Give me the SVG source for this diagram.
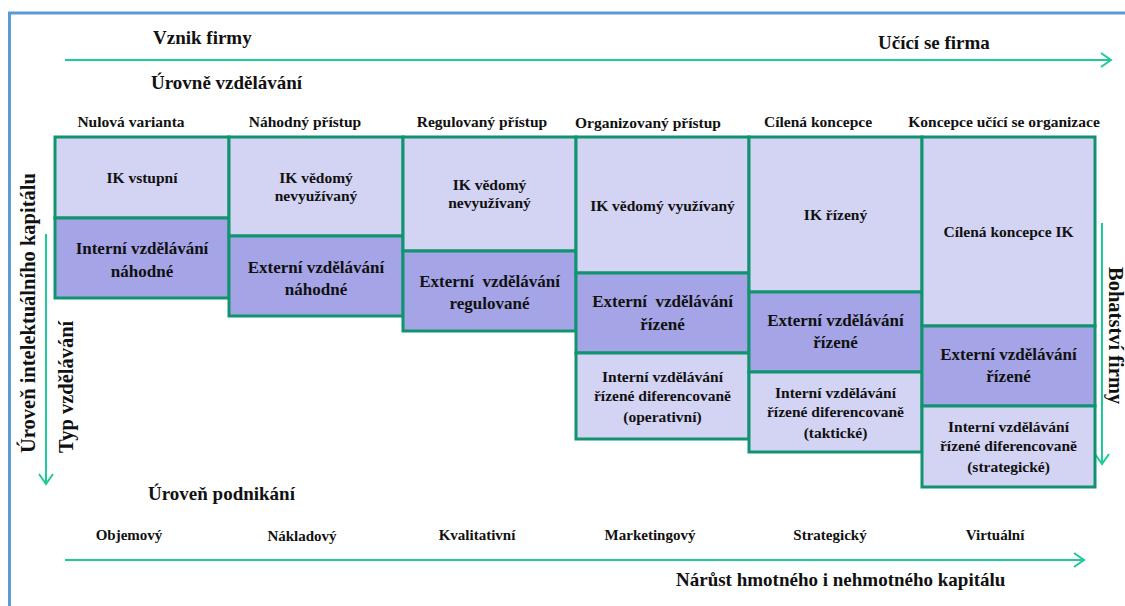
<svg xmlns="http://www.w3.org/2000/svg" width="1125" height="606" viewBox="0 0 1125 606" font-family="'Liberation Serif', 'DejaVu Serif', 'Times New Roman', serif" font-weight="bold">
<defs>
<marker id="chev" markerUnits="userSpaceOnUse" markerWidth="14" markerHeight="16" refX="11" refY="8" orient="auto">
<path d="M1,1 L11,8 L1,15" fill="none" stroke="#1ec99a" stroke-width="2"/>
</marker>
<style>
text{font-family:'Liberation Serif','DejaVu Serif','Times New Roman',serif;font-weight:bold;fill:#111;}
.t19{font-size:19px;}
.t20{font-size:20.5px;}
.hd{font-size:15.5px;text-anchor:middle;}
.bt{font-size:15px;text-anchor:middle;}
.lt{font-size:15.5px;text-anchor:middle;}
.md{font-size:17px;text-anchor:middle;}
.light{fill:#d3d3f3;stroke:#10946f;stroke-width:3;}
.med{fill:#a4a4e6;stroke:#10946f;stroke-width:3;}
.arr{stroke:#1ec99a;stroke-width:2;fill:none;}
.frame{stroke:#5b9bd5;stroke-width:3;fill:none;}
</style>
</defs>
<rect width="1125" height="606" fill="#ffffff"/>
<g id="frame">
<path class="frame" d="M9.5,606 L9.5,13 L1125,13"/>
</g>
<g id="connectors">
<line class="arr" x1="65" y1="60" x2="1111" y2="60" marker-end="url(#chev)"/>
<line class="arr" x1="65" y1="560" x2="1084" y2="560" marker-end="url(#chev)"/>
<line class="arr" x1="46" y1="234" x2="46" y2="484" marker-end="url(#chev)"/>
<line class="arr" x1="1102" y1="223" x2="1102" y2="464" marker-end="url(#chev)"/>
</g>
<g id="labels">
<text class="t19" x="153" y="44">Vznik firmy</text>
<text class="t19" x="878" y="49">Učící se firma</text>
<text class="t19" x="151" y="89">Úrovně vzdělávání</text>
<text class="t19" x="148" y="500">Úroveň podnikání</text>
<text class="t19" x="676" y="586">Nárůst hmotného i nehmotného kapitálu</text>
<text class="t20" transform="translate(35,453) rotate(-90)">Úroveň intelektuálního kapitálu</text>
<text class="t20" transform="translate(73,453) rotate(-90)">Typ vzdělávání</text>
<text class="t20" transform="translate(1109,267) rotate(90)">Bohatství firmy</text>
</g>
<g id="headers">
<text class="hd" x="131" y="127">Nulová varianta</text>
<text class="hd" x="305" y="127">Náhodný přístup</text>
<text class="hd" x="482" y="127">Regulovaný přístup</text>
<text class="hd" x="648" y="128">Organizovaný přístup</text>
<text class="hd" x="818" y="127">Cílená koncepce</text>
<text class="hd" x="1004" y="127">Koncepce učící se organizace</text>
</g>
<g id="business">
<text class="bt" x="129" y="540">Objemový</text>
<text class="bt" x="302" y="541">Nákladový</text>
<text class="bt" x="477" y="540">Kvalitativní</text>
<text class="bt" x="650" y="540">Marketingový</text>
<text class="bt" x="830" y="540">Strategický</text>
<text class="bt" x="995" y="540">Virtuální</text>
</g>
<g id="col1">
<g id="c1-ik"><rect class="light" x="55" y="137" width="174" height="81"/>
<text class="lt" x="142" y="183">IK vstupní</text></g>
<g id="c1-int"><rect class="med" x="55" y="218" width="174" height="80"/>
<text class="md" x="142" y="254">Interní vzdělávání</text>
<text class="md" x="142" y="277">náhodné</text></g>
</g>
<g id="col2">
<g id="c2-ik"><rect class="light" x="229" y="137" width="174" height="99"/>
<text class="lt" x="316" y="183">IK vědomý</text>
<text class="lt" x="316" y="201">nevyužívaný</text></g>
<g id="c2-ext"><rect class="med" x="229" y="236" width="174" height="80"/>
<text class="md" x="316" y="273">Externí vzdělávání</text>
<text class="md" x="316" y="295">náhodné</text></g>
</g>
<g id="col3">
<g id="c3-ik"><rect class="light" x="403" y="137" width="173" height="114"/>
<text class="lt" x="489.5" y="190">IK vědomý</text>
<text class="lt" x="489.5" y="208">nevyužívaný</text></g>
<g id="c3-ext"><rect class="med" x="403" y="251" width="173" height="80"/>
<text class="md" x="489.5" y="287">Externí&#160; vzdělávání</text>
<text class="md" x="489.5" y="309">regulované</text></g>
</g>
<g id="col4">
<g id="c4-ik"><rect class="light" x="576" y="137" width="173" height="136"/>
<text class="lt" x="662.5" y="211">IK vědomý využívaný</text></g>
<g id="c4-ext"><rect class="med" x="576" y="273" width="173" height="80"/>
<text class="md" x="662.5" y="307">Externí&#160; vzdělávání</text>
<text class="md" x="662.5" y="330">řízené</text></g>
<g id="c4-int"><rect class="light" x="576" y="353" width="173" height="86"/>
<text class="lt" x="662.5" y="382">Interní vzdělávání</text>
<text class="lt" x="662.5" y="401">řízené diferencovaně</text>
<text class="lt" x="662.5" y="422">(operativní)</text></g>
</g>
<g id="col5">
<g id="c5-ik"><rect class="light" x="749" y="137" width="173" height="155"/>
<text class="lt" x="835.5" y="220">IK řízený</text></g>
<g id="c5-ext"><rect class="med" x="749" y="292" width="173" height="80"/>
<text class="md" x="835.5" y="326">Externí vzdělávání</text>
<text class="md" x="835.5" y="348">řízené</text></g>
<g id="c5-int"><rect class="light" x="749" y="372" width="173" height="80"/>
<text class="lt" x="835.5" y="398">Interní vzdělávání</text>
<text class="lt" x="835.5" y="417">řízené diferencovaně</text>
<text class="lt" x="835.5" y="438">(taktické)</text></g>
</g>
<g id="col6">
<g id="c6-ik"><rect class="light" x="922" y="137" width="173" height="189"/>
<text class="lt" x="1008.5" y="237">Cílená koncepce IK</text></g>
<g id="c6-ext"><rect class="med" x="922" y="326" width="173" height="80"/>
<text class="md" x="1008.5" y="360">Externí vzdělávání</text>
<text class="md" x="1008.5" y="382">řízené</text></g>
<g id="c6-int"><rect class="light" x="922" y="406" width="173" height="81"/>
<text class="lt" x="1008.5" y="432">Interní vzdělávání</text>
<text class="lt" x="1008.5" y="451">řízené diferencovaně</text>
<text class="lt" x="1008.5" y="472">(strategické)</text></g>
</g>
</svg>
